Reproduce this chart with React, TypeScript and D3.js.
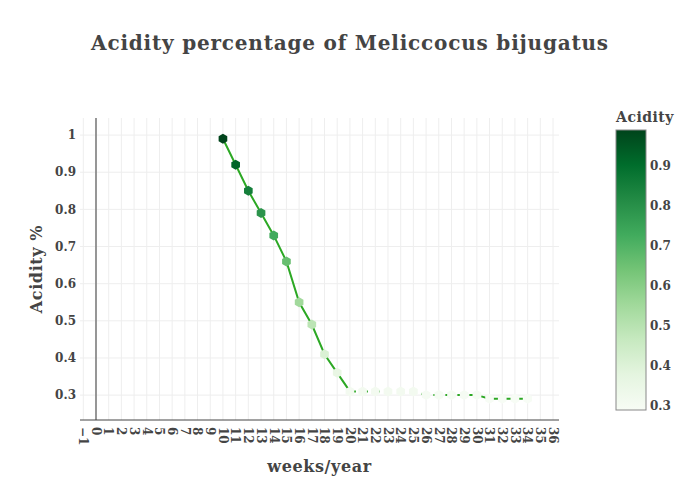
import React from "react";
import * as d3 from "d3";

const weeks = [10, 11, 12, 13, 14, 15, 16, 17, 18, 19, 20, 21, 22, 23, 24, 25, 26, 27, 28, 29, 30, 31, 32, 33, 34];
const acidity = [0.99, 0.92, 0.85, 0.79, 0.73, 0.66, 0.55, 0.49, 0.41, 0.36, 0.31, 0.31, 0.31, 0.31, 0.31, 0.31, 0.30, 0.30, 0.30, 0.30, 0.30, 0.29, 0.29, 0.29, 0.29];
const xTicks = d3.range(-1, 37);
const yTicks = [0.3, 0.4, 0.5, 0.6, 0.7, 0.8, 0.9, 1];
const cbTicks = [0.3, 0.4, 0.5, 0.6, 0.7, 0.8, 0.9];
const greens = ["rgb(247,252,245)", "rgb(229,245,224)", "rgb(199,233,192)", "rgb(161,217,155)", "rgb(116,196,118)", "rgb(65,171,93)", "rgb(35,139,69)", "rgb(0,109,44)", "rgb(0,68,27)"];

const FONT = "'DejaVu Serif', serif";
const W = 700, H = 500;
const L = 80, R = 559, T = 118, B = 420;

export default function App() {
  const x = d3.scaleLinear().domain([-1.26, 36.47]).range([L, R]);
  const y = d3.scaleLinear().domain([0.233, 1.046]).range([B, T]);
  const cmin = d3.min(acidity)!, cmax = d3.max(acidity)!;
  const color = d3.scaleLinear<string>()
    .domain(greens.map((_, i) => cmin + (cmax - cmin) * i / (greens.length - 1)))
    .range(greens).clamp(true);
  const cbTop = 130, cbBot = 410, cbL = 616, cbR = 646;
  const cy = d3.scaleLinear().domain([cmin, cmax]).range([cbBot, cbTop]);

  const pts = weeks.map((w, i) => [w, acidity[i]] as [number, number]);
  const splitIdx = weeks.indexOf(20);
  const line = d3.line<[number, number]>().x(d => x(d[0])).y(d => y(d[1]));
  const solid = line(pts.slice(0, splitIdx + 1))!;
  const dashed = line(pts.slice(splitIdx))!;

  const hex = (r: number) => {
    const p = d3.range(6).map(k => {
      const a = Math.PI / 3 * k - Math.PI / 2;
      return [r * Math.cos(a), r * Math.sin(a)];
    });
    return "M" + p.map(q => q.join(",")).join("L") + "Z";
  };

  const lineColor = "rgb(44,168,36)";

  return (
    <svg width={W} height={H} style={{ position: "absolute", left: 0, top: 0, fontFamily: FONT }}>
      <defs>
        <linearGradient id="cb" x1="0" y1="1" x2="0" y2="0">
          {greens.map((c, i) => (
            <stop key={i} offset={i / (greens.length - 1)} stopColor={c} />
          ))}
        </linearGradient>
        <clipPath id="plot"><rect x={L} y={T} width={R - L} height={B - T} /></clipPath>
      </defs>
      <rect width={W} height={H} fill="#fff" />
      {/* grid */}
      {xTicks.map(t => (
        <line key={"gx" + t} x1={x(t)} x2={x(t)} y1={T} y2={B} stroke="#eee" strokeWidth={1} />
      ))}
      {yTicks.map(t => (
        <line key={"gy" + t} x1={L} x2={R} y1={y(t)} y2={y(t)} stroke="#eee" strokeWidth={1} />
      ))}
      <line x1={x(0)} x2={x(0)} y1={T} y2={B} stroke="#777" strokeWidth={1.5} />
      <line x1={L} x2={R} y1={B} y2={B} stroke="#444" strokeWidth={1} />
      {/* lines */}
      <g clipPath="url(#plot)">
        <path d={solid} fill="none" stroke={lineColor} strokeWidth={2} />
        <path d={dashed} fill="none" stroke={lineColor} strokeWidth={2} strokeDasharray="6,6" />
        {pts.map((p, i) => (
          <path key={i} d={hex(5)} transform={`translate(${x(p[0])},${y(p[1])})`} fill={color(p[1])} />
        ))}
      </g>
      {/* y ticks */}
      {yTicks.map(t => (
        <text key={"yt" + t} x={L - 4} y={y(t)} dy="0.35em" textAnchor="end" fontSize={12} fontWeight="bold" fill="#444">
          {d3.format("~g")(t)}
        </text>
      ))}
      {/* x ticks */}
      {xTicks.map(t => (
        <text key={"xt" + t} transform={`translate(${x(t)},${B + 7}) rotate(90)`} dy="0.35em" textAnchor="start" fontSize={12} fontWeight="bold" fill="#444">
          {t < 0 ? "−" + Math.abs(t) : t}
        </text>
      ))}
      {/* titles */}
      <text x={350} y={50} textAnchor="middle" fontSize={20} letterSpacing={0.8} fontWeight="bold" fill="#444">
        Acidity percentage of Meliccocus bijugatus
      </text>
      <text x={(L + R) / 2} y={472} textAnchor="middle" fontSize={16} letterSpacing={0.6} fontWeight="bold" fill="#444">weeks/year</text>
      <text transform={`translate(42,${(T + B) / 2}) rotate(-90)`} textAnchor="middle" fontSize={16} letterSpacing={0.6} fontWeight="bold" fill="#444">Acidity %</text>
      {/* colorbar */}
      <text x={645} y={122} textAnchor="middle" fontSize={14} letterSpacing={0.5} fontWeight="bold" fill="#444">Acidity</text>
      <rect x={cbL} y={cbTop} width={cbR - cbL} height={cbBot - cbTop} fill="url(#cb)" stroke="#888" strokeWidth={1} />
      {cbTicks.map(t => (
        <text key={"cb" + t} x={cbR + 4} y={cy(t)} dy="0.35em" fontSize={12} fontWeight="bold" fill="#444">{t}</text>
      ))}
    </svg>
  );
}
